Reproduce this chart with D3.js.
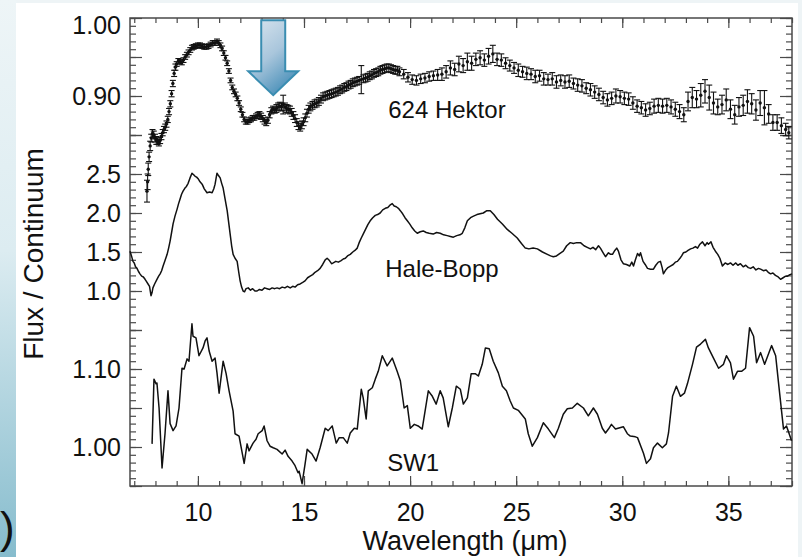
<!DOCTYPE html>
<html>
<head>
<meta charset="utf-8">
<script src="https://cdn.jsdelivr.net/npm/d3@7"></script>
<style>
  body { margin: 0; background: #ffffff; }
  svg { display: block; }
  text { font-family: "Liberation Sans", Arial, Helvetica, sans-serif; fill: #111; }
</style>
</head>
<body>
<svg id="chart" width="802" height="557"></svg>
<script>
// ---------------- data ----------------
// 624 Hektor: wavelength (µm), flux / continuum, 1-sigma error
const hektorWl = [
  7.60,7.63,7.66,7.70,7.75,7.80,7.86,7.92,7.98,8.04,8.10,8.16,8.22,8.28,8.34,8.40,8.46,8.52,8.58,8.64,
  8.70,8.76,8.82,8.88,8.94,9.00,9.08,9.16,9.24,9.32,9.40,9.48,9.56,9.64,9.72,9.80,9.90,10.00,10.10,10.20,
  10.30,10.40,10.50,10.60,10.70,10.80,10.90,10.98,11.06,11.14,11.22,11.30,11.38,11.46,11.54,11.62,11.70,11.78,11.86,11.94,
  12.02,12.10,12.18,12.26,12.34,12.42,12.50,12.58,12.66,12.74,12.82,12.90,12.98,13.06,13.14,13.22,13.30,13.38,13.46,13.54,
  13.62,13.70,13.78,13.86,13.94,14.02,14.10,14.18,14.26,14.34,14.42,14.50,14.58,14.66,14.74,14.82,14.90,14.98,15.06,15.14,
  15.22,15.30,15.40,15.50,15.60,15.70,15.80,15.90,16.00,16.10,16.20,16.30,16.40,16.50,16.60,16.70,16.80,16.90,17.00,17.10,
  17.20,17.30,17.40,17.50,17.60,17.70,17.80,17.90,18.00,18.10,18.20,18.30,18.40,18.50,18.60,18.70,18.80,18.90,19.00,19.10,
  19.20,19.30,19.40,19.50,
  19.70,19.90,20.10,20.30,20.50,20.70,20.90,21.10,21.30,21.50,21.70,21.90,22.10,22.30,22.50,22.70,22.90,23.10,23.30,23.50,
  23.70,23.90,24.10,24.30,24.50,24.70,24.90,25.10,25.30,25.50,25.70,25.90,26.10,26.30,26.50,26.70,26.90,27.10,27.30,27.50,
  27.70,27.90,28.10,28.30,28.50,28.70,28.90,29.10,29.30,29.50,29.70,29.90,30.10,30.30,30.50,30.70,30.90,31.10,31.30,31.50,
  31.70,31.90,32.10,32.30,32.50,32.70,32.90,33.10,33.30,33.50,33.70,33.90,34.10,34.30,34.50,34.70,34.90,35.10,35.30,35.50,
  35.70,35.90,36.10,36.30,36.50,36.70,36.90,37.10,37.30,37.50,37.70,37.85
];
const hektorFlux = [
  0.778,0.790,0.806,0.822,0.836,0.846,0.852,0.850,0.846,0.843,0.842,0.840,0.843,0.848,0.853,0.857,0.860,0.864,0.870,0.880,
  0.890,0.903,0.916,0.929,0.937,0.941,0.945,0.944,0.943,0.946,0.950,0.953,0.956,0.959,0.962,0.963,0.964,0.965,0.965,0.964,
  0.963,0.963,0.964,0.966,0.968,0.968,0.970,0.968,0.965,0.961,0.955,0.949,0.942,0.932,0.920,0.911,0.906,0.902,0.897,0.891,
  0.883,0.876,0.870,0.867,0.867,0.869,0.870,0.872,0.872,0.874,0.875,0.876,0.874,0.871,0.868,0.866,0.869,0.876,0.881,0.883,
  0.882,0.884,0.886,0.887,0.886,0.889,0.886,0.884,0.883,0.882,0.879,0.875,0.871,0.866,0.862,0.860,0.863,0.867,0.872,0.878,
  0.883,0.886,0.888,0.890,0.891,0.893,0.896,0.899,0.900,0.901,0.902,0.903,0.904,0.905,0.906,0.908,0.909,0.911,0.912,0.914,
  0.915,0.917,0.918,0.919,0.920,0.921,0.922,0.923,0.924,0.926,0.927,0.929,0.930,0.931,0.933,0.934,0.935,0.936,0.936,0.935,
  0.934,0.933,0.933,0.931,
  0.928,0.924,0.921,0.920,0.922,0.923,0.925,0.926,0.927,0.928,0.931,0.936,0.934,0.941,0.939,0.944,0.942,0.947,0.949,0.946,
  0.951,0.954,0.947,0.946,0.942,0.939,0.936,0.933,0.931,0.929,0.928,0.925,0.926,0.922,0.921,0.922,0.918,0.920,0.918,0.919,
  0.916,0.914,0.913,0.910,0.908,0.905,0.902,0.898,0.895,0.897,0.900,0.899,0.897,0.896,0.891,0.887,0.885,0.882,0.884,0.887,
  0.888,0.887,0.888,0.886,0.883,0.880,0.876,0.893,0.898,0.896,0.901,0.906,0.898,0.891,0.886,0.889,0.895,0.883,0.876,0.886,
  0.888,0.893,0.890,0.882,0.891,0.885,0.877,0.866,0.866,0.862,0.857,0.853
];
const hektorErr = [
  0.014,0.010,0.008,0.006,0.006,0.005,0.005,0.005,0.005,0.005,0.004,0.004,0.004,0.004,0.004,0.004,0.004,0.004,0.004,0.004,
  0.004,0.004,0.004,0.004,0.004,0.003,0.003,0.003,0.003,0.003,0.003,0.003,0.003,0.003,0.003,0.003,0.003,0.003,0.003,0.003,
  0.003,0.003,0.003,0.003,0.003,0.003,0.003,0.003,0.003,0.003,0.003,0.003,0.003,0.003,0.003,0.003,0.003,0.003,0.003,0.003,
  0.003,0.003,0.003,0.003,0.003,0.003,0.003,0.003,0.003,0.003,0.004,0.004,0.004,0.004,0.004,0.004,0.004,0.004,0.004,0.004,
  0.004,0.005,0.005,0.005,0.005,0.012,0.005,0.005,0.005,0.005,0.005,0.005,0.005,0.005,0.005,0.005,0.005,0.005,0.005,0.005,
  0.005,0.005,0.005,0.005,0.005,0.005,0.005,0.005,0.005,0.005,0.005,0.005,0.005,0.005,0.005,0.005,0.005,0.005,0.005,0.005,
  0.005,0.005,0.005,0.005,0.005,0.018,0.005,0.005,0.005,0.005,0.005,0.005,0.005,0.005,0.005,0.005,0.005,0.005,0.005,0.005,
  0.005,0.005,0.005,0.005,
  0.006,0.006,0.006,0.006,0.006,0.006,0.006,0.006,0.007,0.008,0.008,0.009,0.008,0.010,0.009,0.011,0.009,0.008,0.009,0.008,
  0.010,0.011,0.008,0.008,0.007,0.007,0.007,0.008,0.007,0.008,0.007,0.008,0.007,0.008,0.007,0.008,0.008,0.007,0.008,0.008,
  0.007,0.008,0.008,0.007,0.008,0.008,0.008,0.008,0.008,0.008,0.009,0.008,0.008,0.008,0.008,0.008,0.008,0.008,0.008,0.009,
  0.009,0.009,0.009,0.009,0.009,0.009,0.009,0.012,0.013,0.011,0.015,0.015,0.016,0.014,0.010,0.012,0.014,0.012,0.012,0.012,
  0.013,0.015,0.013,0.013,0.016,0.022,0.012,0.010,0.010,0.010,0.008,0.008
];

// Comet Hale-Bopp: wavelength (µm), flux / continuum
const haleBoppWl = [
  6.80,6.87,6.94,7.00,7.06,7.13,7.20,7.27,7.35,7.43,7.51,7.58,7.65,7.72,7.79,7.84,7.88,7.96,8.07,8.15,
  8.22,8.29,8.36,8.45,8.55,8.62,8.69,8.76,8.83,8.92,9.02,9.09,9.16,9.23,9.30,9.39,9.46,9.54,9.63,9.72,
  9.80,9.87,9.94,10.01,10.10,10.20,10.30,10.43,10.55,10.67,10.75,10.81,10.86,10.90,10.97,11.05,11.12,11.19,11.28,11.38,
  11.45,11.52,11.59,11.66,11.75,11.85,11.92,11.99,12.06,12.13,12.20,12.27,12.37,12.48,12.58,12.69,12.79,12.90,13.02,13.14,
  13.26,13.38,13.50,13.62,13.73,13.85,13.97,14.10,14.22,14.35,14.47,14.58,14.70,14.82,14.94,15.05,15.17,15.29,15.41,15.52,
  15.64,15.76,15.88,16.00,16.09,16.20,16.30,16.38,16.50,16.62,16.75,16.85,16.95,17.05,17.18,17.30,17.40,17.51,17.60,17.70,
  17.79,17.90,18.01,18.12,18.24,18.36,18.47,18.59,18.71,18.83,18.95,19.05,19.16,19.25,19.35,19.45,19.54,19.65,19.76,19.87,
  19.98,20.10,20.22,20.34,20.48,20.62,20.76,20.90,21.09,21.25,21.42,21.58,21.75,21.90,22.04,22.20,22.35,22.46,22.58,22.70,
  22.85,22.99,23.15,23.30,23.45,23.62,23.78,23.95,24.12,24.35,24.58,24.80,25.05,25.25,25.43,25.60,25.80,26.00,26.24,26.47,
  26.62,26.75,26.90,27.05,27.22,27.38,27.55,27.70,27.85,28.03,28.20,28.35,28.50,28.62,28.75,28.88,28.97,29.10,29.21,29.35,
  29.45,29.54,29.65,29.74,29.82,29.94,30.05,30.20,30.35,30.45,30.53,30.62,30.72,30.80,30.86,30.98,31.08,31.19,31.33,31.47,
  31.58,31.70,31.80,31.88,31.94,32.05,32.15,32.27,32.40,32.50,32.60,32.72,32.80,32.88,33.00,33.10,33.22,33.33,33.45,33.55,
  33.66,33.78,33.90,34.00,34.06,34.18,34.28,34.39,34.50,34.60,34.72,34.85,34.98,35.10,35.22,35.35,35.45,35.57,35.70,35.82,
  35.94,36.05,36.17,36.30,36.42,36.52,36.65,36.78,36.88,36.99,37.10,37.22,37.35,37.46,37.58,37.70,37.79,37.90,38.00
];
const haleBoppFlux = [
  1.51,1.45,1.38,1.36,1.31,1.29,1.25,1.22,1.19,1.18,1.15,1.12,1.09,1.06,0.94,0.98,1.04,1.09,1.15,1.19,
  1.22,1.26,1.32,1.39,1.47,1.55,1.64,1.75,1.86,1.96,2.05,2.12,2.18,2.24,2.28,2.32,2.34,2.38,2.45,2.51,
  2.49,2.47,2.46,2.44,2.40,2.37,2.31,2.26,2.27,2.26,2.31,2.37,2.45,2.51,2.48,2.45,2.38,2.32,2.18,2.03,
  1.88,1.73,1.58,1.47,1.42,1.38,1.25,1.13,1.05,1.00,0.99,1.03,1.04,1.01,1.03,1.00,1.00,1.02,1.01,1.04,
  1.03,1.02,1.04,1.03,1.04,1.03,1.05,1.04,1.06,1.04,1.06,1.05,1.08,1.09,1.11,1.13,1.17,1.19,1.21,1.24,
  1.26,1.29,1.34,1.40,1.42,1.39,1.35,1.36,1.38,1.37,1.39,1.41,1.42,1.45,1.47,1.50,1.52,1.55,1.62,1.68,
  1.73,1.79,1.85,1.90,1.94,1.97,1.98,2.00,2.04,2.06,2.07,2.10,2.12,2.09,2.08,2.06,2.03,1.99,1.94,1.90,
  1.86,1.81,1.77,1.74,1.76,1.77,1.75,1.74,1.73,1.75,1.74,1.72,1.71,1.70,1.69,1.71,1.72,1.74,1.81,1.90,
  1.94,1.96,1.98,1.99,2.00,2.03,2.03,1.98,1.92,1.86,1.79,1.74,1.68,1.61,1.55,1.54,1.55,1.54,1.50,1.47,
  1.45,1.44,1.45,1.48,1.51,1.58,1.62,1.61,1.62,1.62,1.58,1.56,1.54,1.56,1.53,1.58,1.55,1.49,1.44,1.49,
  1.47,1.47,1.52,1.55,1.51,1.40,1.35,1.34,1.32,1.37,1.32,1.40,1.48,1.45,1.49,1.38,1.34,1.29,1.28,1.28,
  1.33,1.37,1.38,1.30,1.22,1.27,1.30,1.32,1.34,1.37,1.38,1.42,1.45,1.49,1.50,1.52,1.54,1.55,1.57,1.55,
  1.60,1.63,1.58,1.62,1.60,1.63,1.56,1.51,1.47,1.42,1.32,1.36,1.34,1.36,1.33,1.36,1.33,1.35,1.31,1.33,
  1.30,1.29,1.31,1.27,1.29,1.28,1.26,1.27,1.24,1.22,1.23,1.20,1.18,1.15,1.17,1.19,1.19,1.21,1.22
];

// Comet SW1: wavelength (µm), flux / continuum
const sw1Wl = [
  7.84,7.93,8.03,8.07,8.17,8.31,8.45,8.59,8.69,8.83,8.97,9.11,9.25,9.35,9.49,9.58,9.72,9.77,9.91,10.05,
  10.24,10.34,10.43,10.53,10.67,10.81,10.90,11.00,11.19,11.33,11.47,11.66,11.75,11.94,12.18,12.32,12.41,12.60,12.74,12.84,
  13.03,13.12,13.26,13.40,13.55,13.73,13.97,14.11,14.25,14.44,14.58,14.72,14.77,14.91,15.05,15.15,15.38,15.57,15.76,16.00,
  16.14,16.33,16.52,16.66,16.85,17.04,17.18,17.37,17.51,17.70,17.79,17.93,18.03,18.22,18.36,18.50,18.69,18.92,19.16,19.39,
  19.54,19.72,19.87,20.01,20.20,20.38,20.57,20.86,21.05,21.23,21.42,21.56,21.80,21.99,22.18,22.37,22.51,22.70,22.88,23.07,
  23.22,23.40,23.55,23.73,23.92,24.16,24.35,24.54,24.72,24.87,25.10,25.43,25.57,25.76,26.00,26.28,26.52,26.80,26.99,27.22,
  27.41,27.65,27.88,28.17,28.40,28.64,28.83,29.06,29.21,29.35,29.49,29.68,30.05,30.24,30.38,30.62,30.72,31.00,31.14,31.33,
  31.47,31.66,31.89,32.08,32.18,32.37,32.55,32.74,32.93,33.07,33.31,33.50,33.69,33.92,34.06,34.30,34.54,34.77,34.91,35.10,
  35.24,35.43,35.62,35.81,36.00,36.19,36.33,36.52,36.71,37.04,37.23,37.37,37.60,37.74,37.98
];
const sw1Flux = [
  1.004,1.087,1.081,1.082,1.050,0.973,1.017,1.072,1.030,1.021,1.027,1.050,1.101,1.100,1.113,1.110,1.158,1.142,1.140,1.117,
  1.127,1.136,1.140,1.123,1.110,1.114,1.095,1.069,1.110,1.094,1.072,1.046,1.017,1.014,0.979,1.004,0.995,1.005,1.010,1.017,
  1.021,1.027,1.008,1.001,0.999,0.997,0.991,0.996,0.988,0.982,0.976,0.967,0.969,0.953,0.978,0.997,0.991,0.982,0.999,1.024,
  1.021,1.027,1.005,1.012,1.012,1.005,1.018,1.024,1.023,1.074,1.063,1.036,1.072,1.076,1.087,1.097,1.117,1.104,1.114,1.097,
  1.085,1.050,1.053,1.024,1.029,1.027,1.023,1.072,1.065,1.055,1.072,1.063,1.026,1.050,1.078,1.074,1.055,1.063,1.094,1.094,
  1.091,1.106,1.127,1.126,1.110,1.095,1.078,1.072,1.059,1.050,1.047,1.036,1.017,1.001,1.012,1.031,1.023,1.012,1.024,1.042,
  1.049,1.050,1.056,1.050,1.040,1.050,1.042,1.024,1.018,1.023,1.029,1.023,1.026,1.017,1.014,1.013,1.012,0.992,0.979,0.985,
  0.999,1.005,0.999,1.004,1.018,1.065,1.078,1.065,1.069,1.081,1.106,1.128,1.132,1.138,1.127,1.114,1.101,1.106,1.117,1.108,
  1.087,1.097,1.097,1.101,1.153,1.142,1.108,1.121,1.106,1.130,1.117,1.081,1.023,1.027,1.008
];

// Axis ticks
const xMajorTicks = [10, 15, 20, 25, 30, 35];
const xTitle = "Wavelength (μm)";
const yTitle = "Flux / Continuum";

const panels = [
  { name: "624 Hektor", domain: [0.85, 1.00], major: [0.85, 0.90, 0.95, 1.00], labelled: [0.90, 1.00], minorStep: 0.01, fmt: ".2f",
    labelAt: [18.97, 0.872] },
  { name: "Hale-Bopp", domain: [0.5, 3.0], major: [0.5, 1.0, 1.5, 2.0, 2.5, 3.0], labelled: [1.0, 1.5, 2.0, 2.5], minorStep: 0.1, fmt: ".1f",
    labelAt: [18.83, 1.18] },
  { name: "SW1", domain: [0.95, 1.15], major: [0.95, 1.00, 1.05, 1.10, 1.15], labelled: [1.00, 1.10], minorStep: 0.01, fmt: ".2f",
    labelAt: [18.92, 0.969] }
];

// ---------------- layout ----------------
const W = 802, H = 557;
const plot = { left: 130, right: 792, top: 18, bottom: 486 };
const svg = d3.select("#chart");
const defs = svg.append("defs");

// slide backdrop
const bg = defs.append("linearGradient").attr("id", "slideBg").attr("x1", 0).attr("y1", 0).attr("x2", 0).attr("y2", 1);
bg.append("stop").attr("offset", "0%").attr("stop-color", "#eef5f7");
bg.append("stop").attr("offset", "45%").attr("stop-color", "#dcecf1");
bg.append("stop").attr("offset", "100%").attr("stop-color", "#86bccd");
svg.append("rect").attr("width", W).attr("height", H).attr("fill", "#eef4f6");
svg.append("rect").attr("x", 0).attr("y", 0).attr("width", 17).attr("height", H).attr("fill", "url(#slideBg)");
svg.append("rect").attr("x", 16).attr("y", 3).attr("width", 782).attr("height", H - 3).attr("fill", "#ffffff");

// x scale
const x = d3.scaleLinear().domain([6.8, 38.0]).range([plot.left, plot.right]);

// y scales stacked: each panel height is proportional to its number of major intervals
const units = panels.map(p => Math.round((p.domain[1] - p.domain[0]) / (p.major[1] - p.major[0])));
const totalUnits = d3.sum(units);
const unitPx = (plot.bottom - plot.top) / totalUnits;
let cursor = plot.top;
panels.forEach((p, i) => {
  const h = units[i] * unitPx;
  p.y = d3.scaleLinear().domain(p.domain).range([cursor + h, cursor]);
  cursor += h;
});

const axisColor = "#4a4a4a";
const labelFont = "'Liberation Sans', Arial, sans-serif";

// y axes (left labelled, right mirrored)
panels.forEach(p => {
  const minor = d3.range(Math.round(p.domain[0] / p.minorStep), Math.round(p.domain[1] / p.minorStep) + 1)
    .map(k => +(k * p.minorStep).toFixed(3));
  const lbl = new Set(p.labelled.map(v => v.toFixed(3)));
  const fmt = d3.format(p.fmt);

  const gL = svg.append("g").attr("transform", `translate(${plot.left},0)`);
  gL.call(d3.axisLeft(p.y).tickValues(minor).tickSize(-6).tickFormat(""));
  gL.call(g => g.select(".domain").remove());
  const gLM = svg.append("g").attr("transform", `translate(${plot.left},0)`);
  gLM.call(d3.axisLeft(p.y).tickValues(p.major).tickSize(-12).tickPadding(9)
    .tickFormat(v => lbl.has(v.toFixed(3)) ? fmt(v) : ""));
  gLM.call(g => g.select(".domain").remove());
  gLM.selectAll("text").attr("font-size", 25).style("font-family", labelFont).attr("fill", "#111")
    // the label on the top edge of the frame sits slightly lower so it stays beside the plot
    .attr("dy", v => p.y(v) <= plot.top + 1 ? "0.62em" : "0.32em");

  const gR = svg.append("g").attr("transform", `translate(${plot.right},0)`);
  gR.call(d3.axisRight(p.y).tickValues(minor).tickSize(-6).tickFormat(""));
  gR.call(g => g.select(".domain").remove());
  const gRM = svg.append("g").attr("transform", `translate(${plot.right},0)`);
  gRM.call(d3.axisRight(p.y).tickValues(p.major).tickSize(-12).tickFormat(""));
  gRM.call(g => g.select(".domain").remove());
});

// x axes (bottom labelled, top mirrored)
const xMinor = d3.range(7, 39);
const gB = svg.append("g").attr("transform", `translate(0,${plot.bottom})`);
gB.call(d3.axisBottom(x).tickValues(xMinor).tickSize(-5).tickFormat(""));
gB.call(g => g.select(".domain").remove());
const gBM = svg.append("g").attr("transform", `translate(0,${plot.bottom})`);
gBM.call(d3.axisBottom(x).tickValues(xMajorTicks).tickSize(-10).tickPadding(17).tickFormat(d3.format("d")));
gBM.call(g => g.select(".domain").remove());
gBM.selectAll("text").attr("font-size", 25).style("font-family", labelFont).attr("fill", "#111");
const gT = svg.append("g").attr("transform", `translate(0,${plot.top})`);
gT.call(d3.axisTop(x).tickValues(xMinor).tickSize(-5).tickFormat(""));
gT.call(g => g.select(".domain").remove());
const gTM = svg.append("g").attr("transform", `translate(0,${plot.top})`);
gTM.call(d3.axisTop(x).tickValues(xMajorTicks).tickSize(-10).tickFormat(""));
gTM.call(g => g.select(".domain").remove());

svg.selectAll(".tick line").attr("stroke", axisColor).attr("stroke-width", 1.2);

// frame
svg.append("rect")
  .attr("x", plot.left).attr("y", plot.top)
  .attr("width", plot.right - plot.left).attr("height", plot.bottom - plot.top)
  .attr("fill", "none").attr("stroke", axisColor).attr("stroke-width", 1.5);

// ---------------- series ----------------
const [pHek, pHB, pSW] = panels;

// Hektor: points with error bars
const hek = hektorWl.map((w, i) => ({ w, f: hektorFlux[i], e: hektorErr[i] }));
const gHek = svg.append("g").attr("stroke", "#111").attr("stroke-width", 1.1);
gHek.selectAll("line.bar").data(hek).join("line").attr("class", "bar")
  .attr("x1", d => x(d.w)).attr("x2", d => x(d.w))
  .attr("y1", d => pHek.y(d.f - d.e)).attr("y2", d => pHek.y(d.f + d.e));
gHek.selectAll("line.capTop").data(hek).join("line").attr("class", "capTop")
  .attr("x1", d => x(d.w) - 3).attr("x2", d => x(d.w) + 3)
  .attr("y1", d => pHek.y(d.f + d.e)).attr("y2", d => pHek.y(d.f + d.e));
gHek.selectAll("line.capBot").data(hek).join("line").attr("class", "capBot")
  .attr("x1", d => x(d.w) - 3).attr("x2", d => x(d.w) + 3)
  .attr("y1", d => pHek.y(d.f - d.e)).attr("y2", d => pHek.y(d.f - d.e));
svg.append("g").selectAll("circle").data(hek).join("circle")
  .attr("cx", d => x(d.w)).attr("cy", d => pHek.y(d.f)).attr("r", 1.7).attr("fill", "#111");

// Hale-Bopp and SW1 lines
const hb = haleBoppWl.map((w, i) => ({ w, f: haleBoppFlux[i] }));
const sw = sw1Wl.map((w, i) => ({ w, f: sw1Flux[i] }));
svg.append("path").datum(hb)
  .attr("d", d3.line().x(d => x(d.w)).y(d => pHB.y(d.f)))
  .attr("fill", "none").attr("stroke", "#111").attr("stroke-width", 1.5).attr("stroke-linejoin", "round");
svg.append("path").datum(sw)
  .attr("d", d3.line().x(d => x(d.w)).y(d => pSW.y(d.f)))
  .attr("fill", "none").attr("stroke", "#111").attr("stroke-width", 1.5).attr("stroke-linejoin", "round");

// series names
panels.forEach(p => {
  svg.append("text").attr("x", x(p.labelAt[0])).attr("y", p.y(p.labelAt[1]))
    .attr("font-size", 24).text(p.name);
});

// axis titles
svg.append("text").attr("x", (plot.left + plot.right) / 2 + 4).attr("y", 550)
  .attr("text-anchor", "middle").attr("font-size", 27).text(xTitle);
svg.append("text").attr("transform", `translate(43,${(plot.top + plot.bottom) / 2 + 2}) rotate(-90)`)
  .attr("text-anchor", "middle").attr("font-size", 28).text(yTitle);

// ---------------- annotation arrow ----------------
const ag = defs.append("linearGradient").attr("id", "arrowFill").attr("x1", 0).attr("y1", 0).attr("x2", 0.55).attr("y2", 1);
ag.append("stop").attr("offset", "0%").attr("stop-color", "#dbe6ef");
ag.append("stop").attr("offset", "55%").attr("stop-color", "#a9c6dc");
ag.append("stop").attr("offset", "100%").attr("stop-color", "#4f93bb");
const arrowW = 13.55, arrowTop = 0.997, arrowTip = 0.901;
const ax = x(arrowW), ay0 = pHek.y(arrowTop), ay1 = pHek.y(arrowTip);
const shaftHalf = 12, headHalf = 25, headLen = 24;
const arrowPts = [
  [ax - shaftHalf, ay0], [ax + shaftHalf, ay0], [ax + shaftHalf, ay1 - headLen], [ax + headHalf, ay1 - headLen],
  [ax, ay1], [ax - headHalf, ay1 - headLen], [ax - shaftHalf, ay1 - headLen]
];
svg.append("path").attr("d", d3.line()(arrowPts) + "Z")
  .attr("fill", "url(#arrowFill)").attr("stroke", "#3a8db1").attr("stroke-width", 2).attr("stroke-linejoin", "miter");

// slide text fragment at the lower-left edge
svg.append("text").attr("x", 0).attr("y", 543).attr("font-size", 44).attr("fill", "#111").text(")");
</script>
</body>
</html>
